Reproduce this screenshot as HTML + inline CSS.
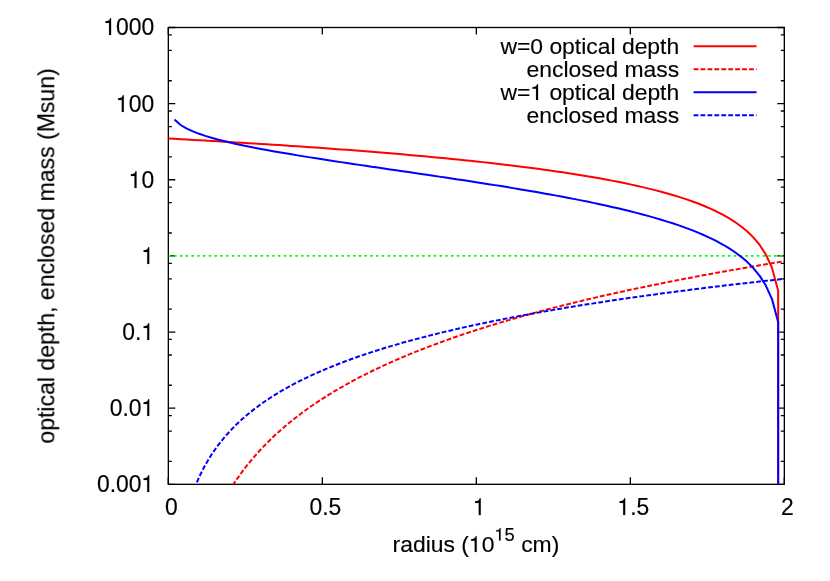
<!DOCTYPE html>
<html><head><meta charset="utf-8"><title>plot</title>
<style>
html,body{margin:0;padding:0;background:#fff;overflow:hidden;}
svg{display:block;}
text{font-family:"Liberation Sans",sans-serif;fill:#000;stroke:#000;stroke-width:0.150px;font-kerning:none;white-space:pre;}
.h{fill:none;stroke:none;}
.one{fill:#000;stroke:#000;stroke-width:13.4;}
</style></head><body>
<svg width="830" height="581" viewBox="0 0 830 581">
<rect x="0" y="0" width="830" height="581" fill="#fff"/>
<defs><clipPath id="c"><rect x="168.33" y="27.50" width="616.00" height="456.83"/></clipPath></defs>

<path d="M168.33,27.50 h7.00 M784.33,27.50 h-7.00 M168.33,80.72 h3.50 M784.33,80.72 h-3.50 M168.33,50.42 h3.50 M784.33,50.42 h-3.50 M168.33,34.88 h3.50 M784.33,34.88 h-3.50 M168.33,103.64 h7.00 M784.33,103.64 h-7.00 M168.33,156.86 h3.50 M784.33,156.86 h-3.50 M168.33,126.56 h3.50 M784.33,126.56 h-3.50 M168.33,111.02 h3.50 M784.33,111.02 h-3.50 M168.33,179.78 h7.00 M784.33,179.78 h-7.00 M168.33,233.00 h3.50 M784.33,233.00 h-3.50 M168.33,202.70 h3.50 M784.33,202.70 h-3.50 M168.33,187.16 h3.50 M784.33,187.16 h-3.50 M168.33,255.92 h7.00 M784.33,255.92 h-7.00 M168.33,309.13 h3.50 M784.33,309.13 h-3.50 M168.33,278.83 h3.50 M784.33,278.83 h-3.50 M168.33,263.29 h3.50 M784.33,263.29 h-3.50 M168.33,332.05 h7.00 M784.33,332.05 h-7.00 M168.33,385.27 h3.50 M784.33,385.27 h-3.50 M168.33,354.97 h3.50 M784.33,354.97 h-3.50 M168.33,339.43 h3.50 M784.33,339.43 h-3.50 M168.33,408.19 h7.00 M784.33,408.19 h-7.00 M168.33,461.41 h3.50 M784.33,461.41 h-3.50 M168.33,431.11 h3.50 M784.33,431.11 h-3.50 M168.33,415.57 h3.50 M784.33,415.57 h-3.50 M168.33,484.33 h7.00 M784.33,484.33 h-7.00 M168.33,484.33 v-7.00 M168.33,27.50 v7.00 M322.33,484.33 v-7.00 M322.33,27.50 v7.00 M476.33,484.33 v-7.00 M476.33,27.50 v7.00 M630.33,484.33 v-7.00 M630.33,27.50 v7.00 M784.33,484.33 v-7.00 M784.33,27.50 v7.00" stroke="#000" stroke-width="1.33" fill="none"/>
<rect x="168.33" y="27.50" width="616.00" height="456.83" fill="none" stroke="#000" stroke-width="1.33"/>
<g clip-path="url(#c)" fill="none" stroke-linejoin="round">
<path d="M168.35,255.92 H784.33" stroke="#00ff00" stroke-width="1.75" stroke-dasharray="2.5,3.269"/>
<path d="M168.33,138.54 L174.49,138.87 L180.65,139.21 L186.81,139.55 L192.97,139.89 L199.13,140.24 L205.29,140.59 L211.45,140.94 L217.61,141.30 L223.77,141.66 L229.93,142.03 L236.09,142.40 L242.25,142.77 L248.41,143.15 L254.57,143.53 L260.73,143.92 L266.89,144.31 L273.05,144.70 L279.21,145.10 L285.37,145.51 L291.53,145.92 L297.69,146.34 L303.85,146.76 L310.01,147.18 L316.17,147.62 L322.33,148.05 L328.49,148.50 L334.65,148.95 L340.81,149.40 L346.97,149.87 L353.13,150.34 L359.29,150.81 L365.45,151.29 L371.61,151.78 L377.77,152.28 L383.93,152.79 L390.09,153.30 L396.25,153.82 L402.41,154.35 L408.57,154.89 L414.73,155.43 L420.89,155.99 L427.05,156.55 L433.21,157.13 L439.37,157.71 L445.53,158.31 L451.69,158.92 L457.85,159.53 L464.01,160.16 L470.17,160.81 L476.33,161.46 L482.49,162.13 L488.65,162.81 L494.81,163.51 L500.97,164.22 L507.13,164.95 L513.29,165.69 L519.45,166.45 L525.61,167.23 L531.77,168.02 L537.93,168.84 L544.09,169.68 L550.25,170.54 L556.41,171.42 L562.57,172.32 L568.73,173.26 L574.89,174.21 L581.05,175.20 L587.21,176.22 L593.37,177.27 L599.53,178.35 L605.69,179.47 L611.85,180.63 L618.01,181.84 L624.17,183.08 L630.33,184.38 L636.49,185.73 L642.65,187.14 L648.81,188.61 L654.97,190.15 L661.13,191.76 L667.29,193.46 L673.45,195.24 L679.61,197.13 L685.77,199.14 L691.93,201.27 L698.09,203.55 L704.25,206.00 L710.41,208.65 L716.57,211.53 L722.73,214.68 L728.89,218.16 L735.05,222.06 L741.21,226.47 L747.37,231.57 L753.53,237.60 L759.69,244.98 L765.85,254.49 L772.01,267.90 L778.17,290.82 L778.17,514.33" stroke="#ff0000" stroke-width="2.00"/>
<path d="M174.49,718.12 L180.65,649.36 L186.81,609.14 L192.97,580.60 L199.13,558.46 L205.29,540.38 L211.45,525.09 L217.61,511.84 L223.77,500.16 L229.93,489.70 L236.09,480.25 L242.25,471.62 L248.41,463.68 L254.57,456.33 L260.73,449.48 L266.89,443.08 L273.05,437.07 L279.21,431.40 L285.37,426.03 L291.53,420.94 L297.69,416.10 L303.85,411.49 L310.01,407.08 L316.17,402.86 L322.33,398.81 L328.49,394.92 L334.65,391.17 L340.81,387.57 L346.97,384.09 L353.13,380.72 L359.29,377.47 L365.45,374.32 L371.61,371.27 L377.77,368.31 L383.93,365.43 L390.09,362.64 L396.25,359.92 L402.41,357.27 L408.57,354.70 L414.73,352.18 L420.89,349.73 L427.05,347.34 L433.21,345.01 L439.37,342.73 L445.53,340.50 L451.69,338.32 L457.85,336.19 L464.01,334.10 L470.17,332.05 L476.33,330.05 L482.49,328.08 L488.65,326.16 L494.81,324.27 L500.97,322.41 L507.13,320.59 L513.29,318.81 L519.45,317.05 L525.61,315.33 L531.77,313.63 L537.93,311.96 L544.09,310.32 L550.25,308.71 L556.41,307.12 L562.57,305.56 L568.73,304.02 L574.89,302.51 L581.05,301.02 L587.21,299.55 L593.37,298.10 L599.53,296.67 L605.69,295.26 L611.85,293.88 L618.01,292.51 L624.17,291.16 L630.33,289.83 L636.49,288.51 L642.65,287.22 L648.81,285.94 L654.97,284.67 L661.13,283.42 L667.29,282.19 L673.45,280.98 L679.61,279.77 L685.77,278.58 L691.93,277.41 L698.09,276.25 L704.25,275.10 L710.41,273.97 L716.57,272.85 L722.73,271.74 L728.89,270.64 L735.05,269.56 L741.21,268.49 L747.37,267.43 L753.53,266.38 L759.69,265.34 L765.85,264.31 L772.01,263.29 L778.17,262.29 L784.33,261.29" stroke="#ff0000" stroke-width="2.00" stroke-dasharray="4.8,2.13" stroke-dashoffset="0.00"/>
<path d="M174.49,119.60 L180.65,124.99 L186.81,128.61 L192.97,131.44 L199.13,133.82 L205.29,135.90 L211.45,137.76 L217.61,139.46 L223.77,141.04 L229.93,142.52 L236.09,143.92 L242.25,145.25 L248.41,146.52 L254.57,147.74 L260.73,148.93 L266.89,150.07 L273.05,151.18 L279.21,152.27 L285.37,153.33 L291.53,154.36 L297.69,155.38 L303.85,156.38 L310.01,157.37 L316.17,158.34 L322.33,159.30 L328.49,160.25 L334.65,161.19 L340.81,162.12 L346.97,163.04 L353.13,163.96 L359.29,164.87 L365.45,165.78 L371.61,166.69 L377.77,167.59 L383.93,168.49 L390.09,169.39 L396.25,170.29 L402.41,171.19 L408.57,172.09 L414.73,172.99 L420.89,173.89 L427.05,174.80 L433.21,175.71 L439.37,176.62 L445.53,177.54 L451.69,178.46 L457.85,179.39 L464.01,180.33 L470.17,181.27 L476.33,182.22 L482.49,183.18 L488.65,184.14 L494.81,185.12 L500.97,186.11 L507.13,187.11 L513.29,188.12 L519.45,189.15 L525.61,190.19 L531.77,191.24 L537.93,192.31 L544.09,193.40 L550.25,194.50 L556.41,195.63 L562.57,196.78 L568.73,197.95 L574.89,199.14 L581.05,200.36 L587.21,201.60 L593.37,202.88 L599.53,204.19 L605.69,205.53 L611.85,206.91 L618.01,208.33 L624.17,209.79 L630.33,211.30 L636.49,212.86 L642.65,214.47 L648.81,216.14 L654.97,217.88 L661.13,219.70 L667.29,221.59 L673.45,223.57 L679.61,225.66 L685.77,227.86 L691.93,230.18 L698.09,232.65 L704.25,235.29 L710.41,238.12 L716.57,241.18 L722.73,244.51 L728.89,248.17 L735.05,252.25 L741.21,256.84 L747.37,262.11 L753.53,268.31 L759.69,275.86 L765.85,285.55 L772.01,299.12 L778.17,322.21 L778.17,514.33" stroke="#0000ff" stroke-width="2.00"/>
<path d="M174.49,583.39 L180.65,537.55 L186.81,510.73 L192.97,491.71 L199.13,476.95 L205.29,464.89 L211.45,454.70 L217.61,445.87 L223.77,438.08 L229.93,431.11 L236.09,424.81 L242.25,419.05 L248.41,413.76 L254.57,408.86 L260.73,404.30 L266.89,400.03 L273.05,396.02 L279.21,392.24 L285.37,388.66 L291.53,385.27 L297.69,382.05 L303.85,378.97 L310.01,376.03 L316.17,373.21 L322.33,370.51 L328.49,367.92 L334.65,365.42 L340.81,363.02 L346.97,360.70 L353.13,358.46 L359.29,356.29 L365.45,354.19 L371.61,352.15 L377.77,350.18 L383.93,348.26 L390.09,346.40 L396.25,344.59 L402.41,342.82 L408.57,341.11 L414.73,339.43 L420.89,337.80 L427.05,336.21 L433.21,334.65 L439.37,333.13 L445.53,331.64 L451.69,330.19 L457.85,328.77 L464.01,327.37 L470.17,326.01 L476.33,324.67 L482.49,323.37 L488.65,322.08 L494.81,320.82 L500.97,319.59 L507.13,318.37 L513.29,317.18 L519.45,316.01 L525.61,314.86 L531.77,313.73 L537.93,312.62 L544.09,311.52 L550.25,310.45 L556.41,309.39 L562.57,308.35 L568.73,307.32 L574.89,306.31 L581.05,305.32 L587.21,304.34 L593.37,303.37 L599.53,302.42 L605.69,301.48 L611.85,300.56 L618.01,299.65 L624.17,298.75 L630.33,297.86 L636.49,296.98 L642.65,296.12 L648.81,295.27 L654.97,294.42 L661.13,293.59 L667.29,292.77 L673.45,291.96 L679.61,291.16 L685.77,290.37 L691.93,289.58 L698.09,288.81 L704.25,288.04 L710.41,287.29 L716.57,286.54 L722.73,285.80 L728.89,285.07 L735.05,284.35 L741.21,283.63 L747.37,282.93 L753.53,282.23 L759.69,281.53 L765.85,280.85 L772.01,280.17 L778.17,279.50 L784.33,278.83" stroke="#0000ff" stroke-width="2.00" stroke-dasharray="4.8,2.13" stroke-dashoffset="0.00"/>
</g>
<g style="filter:grayscale(1)">
<g transform="translate(154.20,35.00) scale(1,1.060)"><text id="t1" x="0" y="0" font-size="22.90" text-anchor="end" xml:space="preserve"><tspan class="h">1</tspan>000</text><path class="one" transform="translate(-50.904,0.000) scale(0.011182,-0.011182)" d="M515 0H696V1409H604C584 1262 450 1150 190 1150V1010H515Z"/></g>
<g transform="translate(154.20,112.00) scale(1,1.060)"><text id="t2" x="0" y="0" font-size="22.90" text-anchor="end" xml:space="preserve"><tspan class="h">1</tspan>00</text><path class="one" transform="translate(-38.182,0.000) scale(0.011182,-0.011182)" d="M515 0H696V1409H604C584 1262 450 1150 190 1150V1010H515Z"/></g>
<g transform="translate(154.20,188.00) scale(1,1.060)"><text id="t3" x="0" y="0" font-size="22.90" text-anchor="end" xml:space="preserve"><tspan class="h">1</tspan>0</text><path class="one" transform="translate(-25.459,0.000) scale(0.011182,-0.011182)" d="M515 0H696V1409H604C584 1262 450 1150 190 1150V1010H515Z"/></g>
<g transform="translate(154.20,264.00) scale(1,1.060)"><text id="t4" x="0" y="0" font-size="22.90" text-anchor="end" xml:space="preserve"><tspan class="h">1</tspan></text><path class="one" transform="translate(-12.737,0.000) scale(0.011182,-0.011182)" d="M515 0H696V1409H604C584 1262 450 1150 190 1150V1010H515Z"/></g>
<g transform="translate(154.20,340.00) scale(1,1.060)"><text id="t5" x="0" y="0" font-size="22.90" text-anchor="end" xml:space="preserve">0.<tspan class="h">1</tspan></text><path class="one" transform="translate(-12.737,0.000) scale(0.011182,-0.011182)" d="M515 0H696V1409H604C584 1262 450 1150 190 1150V1010H515Z"/></g>
<g transform="translate(154.20,416.00) scale(1,1.060)"><text id="t6" x="0" y="0" font-size="22.90" text-anchor="end" xml:space="preserve">0.0<tspan class="h">1</tspan></text><path class="one" transform="translate(-12.737,0.000) scale(0.011182,-0.011182)" d="M515 0H696V1409H604C584 1262 450 1150 190 1150V1010H515Z"/></g>
<g transform="translate(154.20,492.00) scale(1,1.060)"><text id="t7" x="0" y="0" font-size="22.90" text-anchor="end" xml:space="preserve">0.00<tspan class="h">1</tspan></text><path class="one" transform="translate(-12.752,0.000) scale(0.011182,-0.011182)" d="M515 0H696V1409H604C584 1262 450 1150 190 1150V1010H515Z"/></g>
<g transform="translate(171.33,515.00) scale(1,1.060)"><text id="t8" x="0" y="0" font-size="22.90" text-anchor="middle" xml:space="preserve">0</text></g>
<g transform="translate(325.33,515.00) scale(1,1.060)"><text id="t9" x="0" y="0" font-size="22.90" text-anchor="middle" xml:space="preserve">0.5</text></g>
<g transform="translate(479.33,515.00) scale(1,1.060)"><text id="t10" x="0" y="0" font-size="22.90" text-anchor="middle" xml:space="preserve"><tspan class="h">1</tspan></text><path class="one" transform="translate(-6.369,0.000) scale(0.011182,-0.011182)" d="M515 0H696V1409H604C584 1262 450 1150 190 1150V1010H515Z"/></g>
<g transform="translate(633.33,515.00) scale(1,1.060)"><text id="t11" x="0" y="0" font-size="22.90" text-anchor="middle" xml:space="preserve"><tspan class="h">1</tspan>.5</text><path class="one" transform="translate(-15.906,0.000) scale(0.011182,-0.011182)" d="M515 0H696V1409H604C584 1262 450 1150 190 1150V1010H515Z"/></g>
<g transform="translate(787.33,515.00) scale(1,1.060)"><text id="t12" x="0" y="0" font-size="22.90" text-anchor="middle" xml:space="preserve">2</text></g>
<g transform="translate(392.60,552.00)"><text id="t13" x="0" y="0" font-size="22.90" text-anchor="start" xml:space="preserve">radius (<tspan class="h">1</tspan>0<tspan font-size="18.32" dy="-11.50"><tspan class="h">1</tspan>5</tspan><tspan dy="11.50"> cm)</tspan></text><path class="one" transform="translate(76.328,0.000) scale(0.011182,-0.011182)" d="M515 0H696V1409H604C584 1262 450 1150 190 1150V1010H515Z"/><path class="one" transform="translate(101.797,-11.500) scale(0.008945,-0.008945)" d="M515 0H696V1409H604C584 1262 450 1150 190 1150V1010H515Z"/></g>
<g transform="translate(54.30,255.90) rotate(-90)"><text id="t14" x="0" y="0" font-size="23.06" text-anchor="middle" xml:space="preserve">optical depth, enclosed mass (Msun)</text></g>
<g transform="translate(679.20,54.00)"><text id="t15" x="0" y="0" font-size="22.90" text-anchor="end" xml:space="preserve">w=0 optical depth</text></g>
<g transform="translate(679.20,77.00)"><text id="t16" x="0" y="0" font-size="22.90" text-anchor="end" xml:space="preserve">enclosed mass</text></g>
<g transform="translate(679.20,100.00)"><text id="t17" x="0" y="0" font-size="22.90" text-anchor="end" xml:space="preserve">w=<tspan class="h">1</tspan> optical depth</text><path class="one" transform="translate(-148.922,0.000) scale(0.011182,-0.011182)" d="M515 0H696V1409H604C584 1262 450 1150 190 1150V1010H515Z"/></g>
<g transform="translate(679.20,123.00)"><text id="t18" x="0" y="0" font-size="22.90" text-anchor="end" xml:space="preserve">enclosed mass</text></g>
</g>
<path d="M693.60,46.25 H756.55" stroke="#ff0000" stroke-width="2.00" fill="none"/>
<path d="M693.60,69.27 H756.55" stroke="#ff0000" stroke-width="2.00" fill="none" stroke-dasharray="4.8,2.13"/>
<path d="M693.60,92.30 H756.55" stroke="#0000ff" stroke-width="2.00" fill="none"/>
<path d="M693.60,115.30 H756.55" stroke="#0000ff" stroke-width="2.00" fill="none" stroke-dasharray="4.8,2.13"/>
</svg></body></html>
